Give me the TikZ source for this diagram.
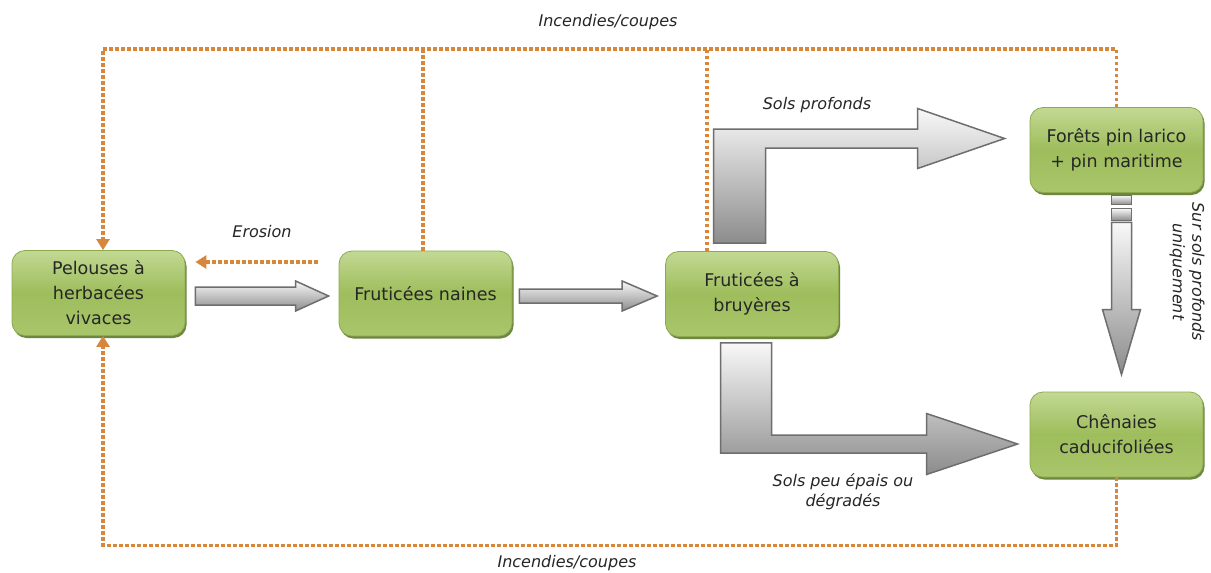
\documentclass[tikz,border=0pt]{standalone}
\usepackage{fontspec}
\setmainfont{DejaVu Sans}
\usetikzlibrary{calc,shadows,arrows.meta}

\definecolor{boxtop}{HTML}{C2D993}
\definecolor{boxmid}{HTML}{9EBD5C}
\definecolor{boxbot}{HTML}{A9C66B}
\definecolor{boxedge}{HTML}{8DAA4E}
\definecolor{boxshadow}{HTML}{5E7A2C}
\definecolor{fire}{HTML}{D6873C}
\definecolor{arrowedge}{HTML}{6E6E6E}
\definecolor{arrowlight}{HTML}{F8F8F8}
\definecolor{arrowdark}{HTML}{8C8C8C}

\tikzset{
  stage/.style={rectangle, rounded corners=13pt, minimum width=173pt, minimum height=85pt,
    top color=boxtop, bottom color=boxbot, middle color=boxmid, draw=boxedge, line width=0.8pt,
    text=black!85, align=center, font=\fontsize{17.5}{25}\selectfont,
    drop shadow={shadow xshift=1.5pt, shadow yshift=-2.5pt, fill=boxshadow, opacity=0.9}},
  fireline/.style={draw=fire, line width=3.5pt, dash pattern=on 3.5pt off 2.5pt},
  firetip/.style={-{Triangle[length=11pt,width=13pt]}},
  blockarrow/.style={top color=arrowlight, bottom color=arrowdark, draw=arrowedge,
    line width=1.5pt, line join=miter},
  notetext/.style={font=\fontsize{16}{19.5}\selectfont\itshape, text=black!85, align=center}
}

\begin{document}
\begin{tikzpicture}[x=1pt, y=-1pt]
  \fill[white] (0,0) rectangle (1211,573);
  \useasboundingbox (0,0) rectangle (1211,573);

  % vegetation stages
  \node[stage] (pel) at (98.5,293)   {Pelouses à\\herbacées\\vivaces};
  \node[stage] (fn)  at (425.5,293.5) {Fruticées naines};
  \node[stage] (bru) at (752,294)    {Fruticées à\\bruyères};
  \node[stage] (for) at (1116.5,150) {Forêts pin larico\\+ pin maritime};
  \node[stage] (che) at (1116.5,434.5) {Chênaies\\caducifoliées};

  % fire / cutting feedback loops
  \coordinate (topline) at (0,49);
  \draw[fireline] ([xshift=-2.5pt]fn.north) -- ([xshift=-2.5pt]fn.north |- topline);
  \draw[fireline] ([xshift=-45pt]bru.north) -- ([xshift=-45pt]bru.north |- topline);
  \draw[fireline, firetip] (for.north) -- (for.north |- topline) -| ([xshift=4.5pt]pel.north);
  \draw[fireline, firetip] (che.south) -- ++(0,68) -| ([xshift=4.5pt]pel.south);
  \draw[fireline, firetip] ($(fn.west)+(-21,-31.5)$) -- ($(pel.east)+(10,-31)$);

  % straight block arrows
  \coordinate (h1s) at ($(pel.east)+(10,3)$);
  \coordinate (h1t) at ($(fn.west)+(-10,2.5)$);
  \path[blockarrow] let \p1=(h1s), \p2=(h1t) in
    (\x1,\y1+9pt) -- (\x2-33pt,\y1+9pt) -- (\x2-33pt,\y1+15pt) -- (\x2,\y1)
    -- (\x2-33pt,\y1-15pt) -- (\x2-33pt,\y1-9pt) -- (\x1,\y1-9pt) -- cycle;

  \coordinate (h2s) at ($(fn.east)+(7,2.5)$);
  \coordinate (h2t) at ($(bru.west)+(-8,2)$);
  \path[blockarrow] let \p1=(h2s), \p2=(h2t) in
    (\x1,\y1+7pt) -- (\x2-35pt,\y1+7pt) -- (\x2-35pt,\y1+15pt) -- (\x2,\y1)
    -- (\x2-35pt,\y1-15pt) -- (\x2-35pt,\y1-7pt) -- (\x1,\y1-7pt) -- cycle;

  % bent arrow towards the pine forests
  \coordinate (l1s) at ($(bru.north west)+(48.5,-8)$);
  \coordinate (l1t) at ($(for.west)+(-25,-11.5)$);
  \path[blockarrow] let \p1=(l1s), \p2=(l1t) in
    (\x1,\y1) -- (\x1,\y2+9.5pt) -- (\x2-87pt,\y2+9.5pt) -- (\x2-87pt,\y2+30pt) -- (\x2,\y2)
    -- (\x2-87pt,\y2-30pt) -- (\x2-87pt,\y2-9.5pt) -- (\x1+52pt,\y2-9.5pt) -- (\x1+52pt,\y1) -- cycle;

  % bent arrow towards the oak woods
  \coordinate (l2s) at ($(bru.south west)+(55.5,6)$);
  \coordinate (l2t) at ($(che.west)+(-12,9.5)$);
  \path[blockarrow] let \p1=(l2s), \p2=(l2t) in
    (\x1,\y1) -- (\x1,\y2-9pt) -- (\x2-91pt,\y2-9pt) -- (\x2-91pt,\y2-30.5pt) -- (\x2,\y2)
    -- (\x2-91pt,\y2+30.5pt) -- (\x2-91pt,\y2+9pt) -- (\x1+51pt,\y2+9pt) -- (\x1+51pt,\y1) -- cycle;

  % vertical arrow pine forests -> oak woods
  \coordinate (v1s) at ($(for.south)+(5,2.5)$);
  \coordinate (v1t) at ($(che.north)+(5,-17)$);
  \path[blockarrow] let \p1=(v1s) in
    (\x1-10pt,\y1) rectangle (\x1+10pt,\y1-9pt);
  \path[blockarrow] let \p1=(v1s) in
    (\x1-10pt,\y1-13pt) rectangle (\x1+10pt,\y1-25pt);
  \path[blockarrow] let \p1=(v1s), \p2=(v1t) in
    (\x1-10pt,\y1-27pt) -- (\x1-10pt,\y2+65pt) -- (\x1-19pt,\y2+65pt) -- (\x2,\y2)
    -- (\x1+19pt,\y2+65pt) -- (\x1+10pt,\y2+65pt) -- (\x1+10pt,\y1-27pt) -- cycle;

  % labels
  \node[notetext] (lt) at (608,22) {Incendies/coupes};
  \node[notetext] (lb) at (567,563) {Incendies/coupes};
  \node[notetext] (le) at (262,232) {Erosion};
  \node[notetext] (lp) at (817,105) {Sols profonds};
  \node[notetext] (ld) at (843,492) {Sols peu épais ou\\dégradés};
  \node[notetext, rotate=-90] (lu) at (1187,272) {Sur sols profonds\\uniquement};
\end{tikzpicture}
\end{document}
